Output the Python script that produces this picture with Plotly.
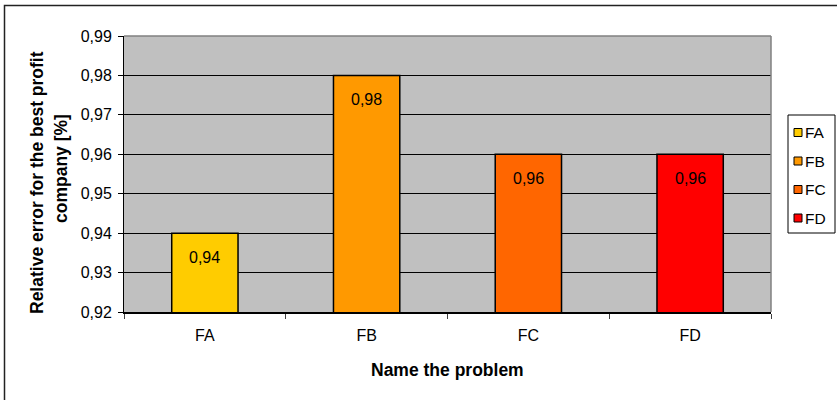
import plotly.graph_objects as go

# Data
categories = ["FA", "FB", "FC", "FD"]
values = [0.94, 0.98, 0.96, 0.96]
colors = ["#FFCC00", "#FF9900", "#FF6600", "#FF0000"]
y_ticks = [0.92, 0.93, 0.94, 0.95, 0.96, 0.97, 0.98, 0.99]

W, H = 837, 400
ML, MR, MT, MB = 124, 66, 36, 88
PW, PH = W - ML - MR, H - MT - MB
FONT = "Arial, Liberation Sans, sans-serif"


def px_x(px):
    return (px - ML) / PW


def px_y(py):
    return (H - MB - py) / PH


fig = go.Figure()
fig.add_trace(go.Bar(
    x=categories, y=values, width=0.41,
    marker=dict(color=colors, line=dict(color="black", width=1.5)),
    showlegend=False, hoverinfo="x+y",
))

annotations = []
# value labels inside the top of each bar
for c, v in zip(categories, values):
    annotations.append(dict(
        x=c, y=v, xref="x", yref="y", text=f"{v:.2f}".replace(".", ","),
        showarrow=False, yshift=-24, yanchor="middle",
        font=dict(family=FONT, size=16, color="black"),
    ))

# axis titles
annotations.append(dict(
    x=0.5, y=px_y(370), xref="paper", yref="paper", text="<b>Name the problem</b>",
    showarrow=False, xanchor="center", yanchor="middle",
    font=dict(family=FONT, size=17.5, color="black"),
))
for line, cx, cy in [("Relative error for the best profit", 37, 183),
                     ("company [%]", 61, 169)]:
    annotations.append(dict(
        x=px_x(cx), y=px_y(cy), xref="paper", yref="paper",
        text=f"<b>{line}</b>",
        showarrow=False, textangle=-90, xanchor="center", yanchor="middle",
        font=dict(family=FONT, size=17.5, color="black"),
    ))

shapes = [
    # outer chart frame
    dict(type="rect", xref="paper", yref="paper",
         x0=px_x(4.5), x1=px_x(842), y0=px_y(5.5), y1=px_y(405),
         line=dict(color="#222222", width=1.5), layer="above"),
    # plot-area border (top and right)
    dict(type="line", xref="paper", yref="paper", x0=0, x1=1, y0=1, y1=1,
         line=dict(color="#808080", width=1.5), layer="above"),
    dict(type="line", xref="paper", yref="paper", x0=1, x1=1, y0=0, y1=1,
         line=dict(color="#808080", width=1.5), layer="above"),
    # legend frame
    dict(type="rect", xref="paper", yref="paper",
         x0=px_x(788), x1=px_x(835), y0=px_y(115), y1=px_y(233),
         line=dict(color="black", width=1), fillcolor="white", layer="above"),
]

# legend entries
for i, (c, col) in enumerate(zip(categories, colors)):
    cy = 132.5 + i * 28.5
    shapes.append(dict(
        type="rect", xref="paper", yref="paper",
        x0=px_x(794), x1=px_x(802), y0=px_y(cy - 4), y1=px_y(cy + 4),
        line=dict(color="black", width=1), fillcolor=col, layer="above",
    ))
    annotations.append(dict(
        x=px_x(803), y=px_y(cy), xref="paper", yref="paper", text=c,
        showarrow=False, xanchor="left", yanchor="middle",
        font=dict(family=FONT, size=15.5, color="black"),
    ))

fig.update_layout(
    width=W, height=H, autosize=False,
    margin=dict(l=ML, r=MR, t=MT, b=MB, pad=0),
    paper_bgcolor="white", plot_bgcolor="#C0C0C0",
    separators=",.",
    font=dict(family=FONT, size=16, color="black"),
    showlegend=False,
    annotations=annotations, shapes=shapes,
    xaxis=dict(
        type="category", tickson="boundaries", ticks="outside", ticklen=5,
        tickcolor="#404040", tickwidth=1, showline=True, linecolor="black",
        linewidth=1.5, showgrid=False, ticklabelstandoff=8,
        tickfont=dict(family=FONT, size=16, color="black"),
    ),
    yaxis=dict(
        range=[0.92, 0.99], tickvals=y_ticks, tickformat=".2f",
        ticks="outside", ticklen=5, tickcolor="black", tickwidth=1,
        showline=True, linecolor="black", linewidth=1,
        showgrid=True, gridcolor="black", gridwidth=1, zeroline=False,
        ticklabelstandoff=3,
        tickfont=dict(family=FONT, size=16, color="black"),
    ),
)

fig.write_html("out.html")
